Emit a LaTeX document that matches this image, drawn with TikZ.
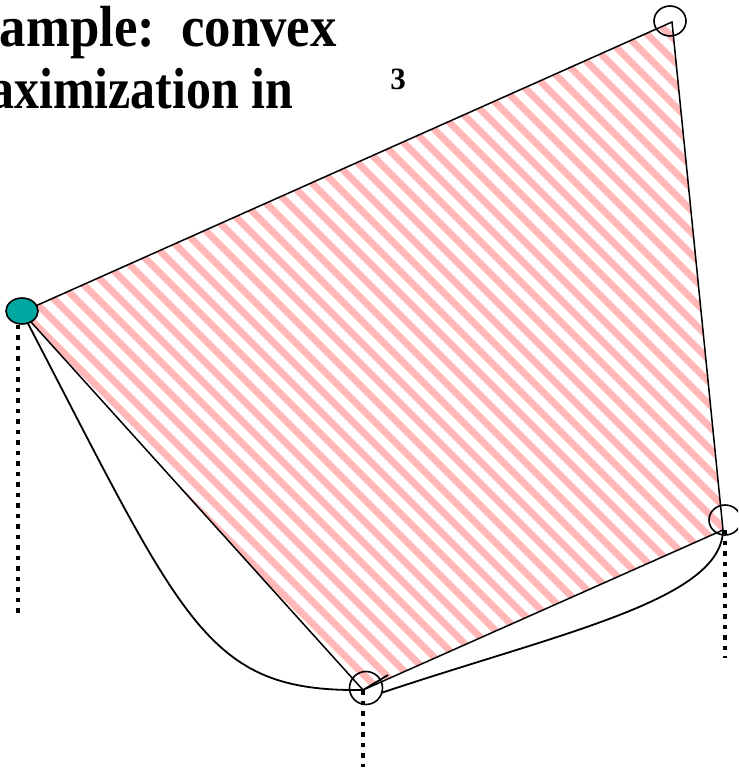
\documentclass[tikz,border=0pt]{standalone}
\usepackage{fontspec}
\setmainfont{Liberation Serif}
\usetikzlibrary{positioning,shapes.geometric}

\definecolor{vertexteal}{RGB}{0,168,162}
\definecolor{stripepink}{RGB}{255,183,183}

\tikzset{
  vertex/.style={draw,line width=1.6pt,ellipse,inner sep=0pt,minimum width=32pt,minimum height=30pt},
  rim/.style={line width=1.5pt},
  swoop/.style={line width=1.8pt},
  drop/.style={line width=3.3pt,dash pattern=on 4.5pt off 6pt},
  title/.style={font=\bfseries\fontsize{58}{62}\selectfont,inner sep=0pt}
}

\begin{document}
\begin{tikzpicture}[x=1pt,y=-1pt]
    \useasboundingbox (0,0) rectangle (738,770);
    \clip (0,0) rectangle (738,770);

    % corners of the hatched region
    \coordinate (pl) at (22,312);
    \coordinate (pt) at (672,22);
    \coordinate (pr) at (723,530);
    \coordinate (pb) at (363,690);

    \begin{scope}
        \clip (pl) -- (pt) -- (pr) -- (pb) -- cycle;
        \foreach \k in {-16,...,32}
            \draw[stripepink,line width=7pt] (22*\k-31,-50) -- ++(900,900);
    \end{scope}
    \draw[rim] (pl) -- (pt) -- (pr) -- (pb) -- cycle;

    % free ends
    \coordinate (hook) at (388,675);
    \coordinate (tail) at (381,693);
    \coordinate (lfoot) at (18,618);
    \coordinate (bfoot) at (363,767);
    \coordinate (rfoot) at (725,658);

    \draw[swoop] (pl) .. controls (185,625) and (205,692) .. (pb) -- (hook);
    \draw[swoop] (tail) .. controls (560,633) and (722,600) .. (pr);

    \node[vertex,fill=vertexteal,minimum height=26pt] (lv) at (22,311) {};
    \node[vertex] (tv) at (670,21) {};
    \node[vertex] (rv) at (725,520) {};
    \node[vertex,minimum height=33pt,minimum width=33pt] (bv) at (366,688) {};

    \draw[drop] (lv.south -| lfoot) -- (lfoot);
    \draw[drop] (pb -| bfoot) -- (bfoot);
    \draw[drop] (pr -| rfoot) -- (rfoot);

    \node[title,anchor=base east] (line1) at (337,47) {\scalebox{0.91}[1]{xample:\ \ convex}};
    \node[title,anchor=base east] (line2) at (293,109) {\scalebox{0.86}[1]{aximization in}};
    \node[anchor=base,inner sep=0pt,font=\bfseries\fontsize{31}{36}\selectfont] (cube) at (398,90) {3};
\end{tikzpicture}
\end{document}
